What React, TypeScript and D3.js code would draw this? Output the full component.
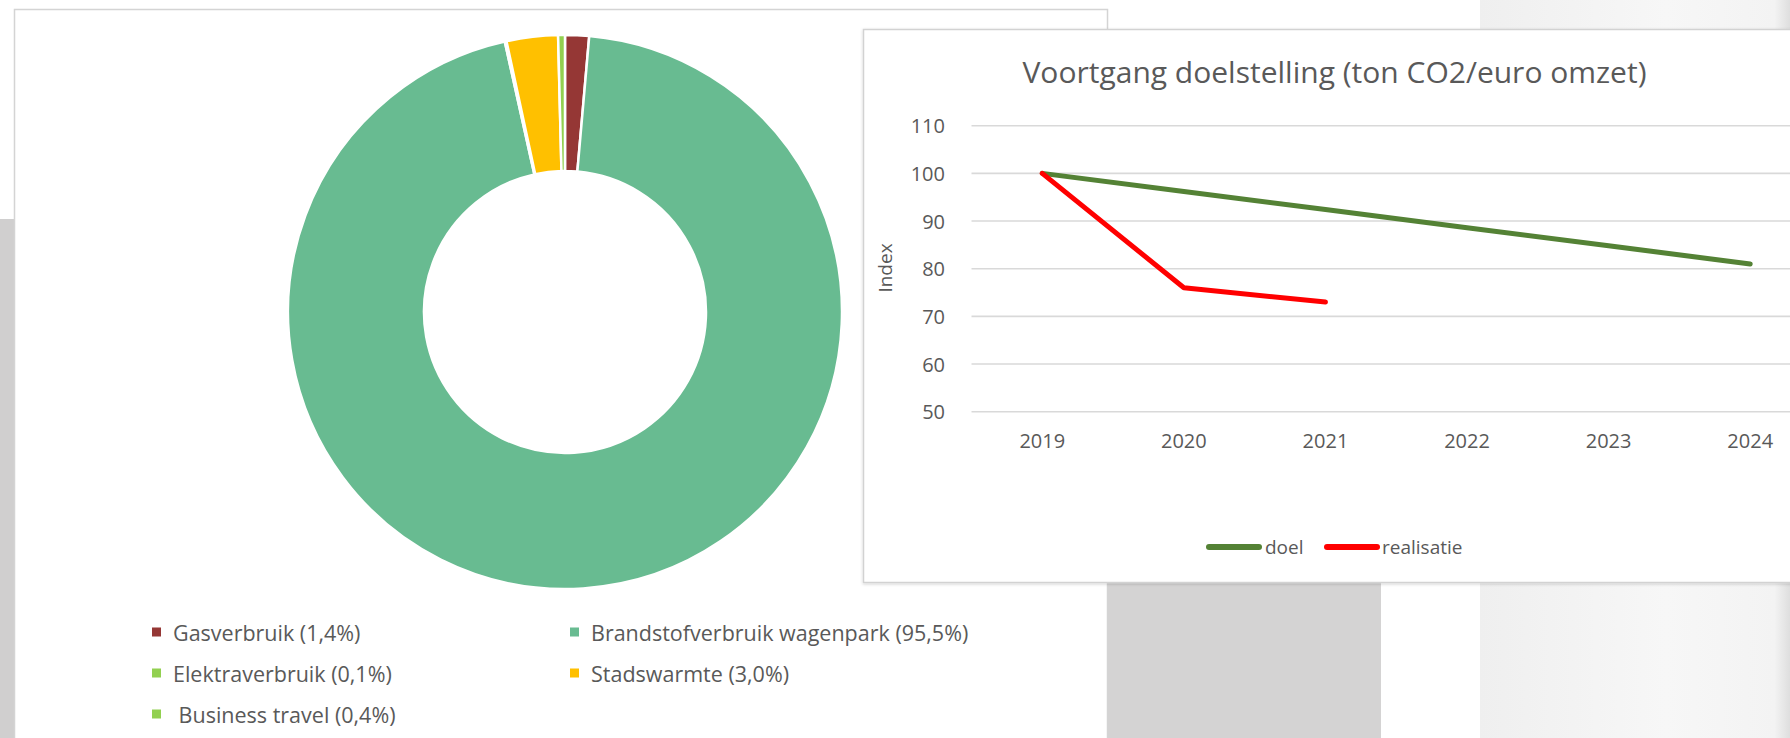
import React from "react";
import { pie, arc, scaleBand, scaleLinear, line } from "d3";

const donutLabels = ["Gasverbruik", "Brandstofverbruik wagenpark", "Elektraverbruik", "Stadswarmte", " Business travel"];
const donutShares = [1.4, 95.5, 0.1, 3.0, 0.4];
const donutColors = ["#953735", "#68bb91", "#92d050", "#ffc000", "#92d050"];

const years = ["2019", "2020", "2021", "2022", "2023", "2024"];
const doel = [100, 96.2, 92.4, 88.6, 84.8, 81];
const realisatie = [100, 76, 73];
const yTicks = [50, 60, 70, 80, 90, 100, 110];

const FONT = "'Open Sans', 'Noto Sans', sans-serif";
const TXT = "#595959";

const Donut = () => {
  const cx = 565, cy = 312, outer = 277, inner = 141;
  const data = donutShares.map((v, i) => ({ label: donutLabels[i], value: v, color: donutColors[i] }));
  const slices = pie().sort(null).value(d => d.value)(data);
  const arcGen = arc().innerRadius(inner).outerRadius(outer);

  return (
    <g>
      <g transform={`translate(${cx}, ${cy})`}>
        {slices.map((s, i) => (
          <path key={i} d={arcGen(s)} fill={s.data.color} stroke="#fff" strokeWidth={2.5} />
        ))}
      </g>
      {data.map((d, i) => {
        const col = i % 2, row = Math.floor(i / 2);
        const x = col === 0 ? 152 : 570;
        const y = 632 + row * 41;
        return (
          <g key={i}>
            <rect x={x} y={y - 4.5} width={9} height={9} fill={d.color} />
            <text
              x={x + 21}
              y={y}
              dominantBaseline="central"
              fontSize="21.5"
              fill={TXT}
              style={{ whiteSpace: "pre" }}
            >
              {`${d.label} (${d.value.toFixed(1).replace(".", ",")}%)`}
            </text>
          </g>
        );
      })}
    </g>
  );
};

const LineChart = () => {
  const x = scaleBand().domain(years).range([971.5, 1821]);
  const cxOf = (yr) => x(yr) + x.bandwidth() / 2;
  const y = scaleLinear().domain([50, 110]).range([411.7, 125.7]);
  const lineGen = line().x(d => cxOf(d.year)).y(d => y(d.value));
  const doelPts = doel.map((v, i) => ({ year: years[i], value: v }));
  const realPts = realisatie.map((v, i) => ({ year: years[i], value: v }));

  return (
    <g>
      <text x={1334.5} y={83} textAnchor="middle" fontSize="30" fill={TXT}>
        Voortgang doelstelling (ton CO2/euro omzet)
      </text>

      {yTicks.map(t => (
        <g key={t}>
          <line x1={971.5} x2={1790} y1={y(t)} y2={y(t)} stroke="#d9d9d9" strokeWidth={1.6} />
          <text x={945} y={y(t)} textAnchor="end" dominantBaseline="central" fontSize="20" fill={TXT}>
            {t}
          </text>
        </g>
      ))}

      {years.map(yr => (
        <text key={yr} x={cxOf(yr)} y={448} textAnchor="middle" fontSize="20" fill={TXT}>
          {yr}
        </text>
      ))}

      <text
        transform="translate(885, 268) rotate(-90)"
        textAnchor="middle"
        dominantBaseline="central"
        fontSize="19"
        fill={TXT}
      >
        Index
      </text>

      <path d={lineGen(doelPts)} fill="none" stroke="#548235" strokeWidth={5} strokeLinejoin="round" strokeLinecap="round" />
      <path d={lineGen(realPts)} fill="none" stroke="#ff0000" strokeWidth={5} strokeLinejoin="round" strokeLinecap="round" />

      <line x1={1209} x2={1259} y1={547} y2={547} stroke="#548235" strokeWidth={6} strokeLinecap="round" />
      <text x={1265} y={547} dominantBaseline="central" fontSize="19" fill={TXT}>doel</text>
      <line x1={1327} x2={1377} y1={547} y2={547} stroke="#ff0000" strokeWidth={6} strokeLinecap="round" />
      <text x={1382} y={547} dominantBaseline="central" fontSize="19" fill={TXT}>realisatie</text>
    </g>
  );
};

export default function App() {
  const width = 1790, height = 738;
  return (
    <svg
      width={width}
      height={height}
      style={{ position: "absolute", left: 0, top: 0, display: "block", background: "#fff" }}
      fontFamily={FONT}
    >
      <defs>
        <linearGradient id="fadeR" x1="0" x2="1" y1="0" y2="0">
          <stop offset="0" stopColor="#efefef" />
          <stop offset="0.6" stopColor="#f7f7f7" />
          <stop offset="0.95" stopColor="#f3f3f3" />
          <stop offset="1" stopColor="#dedede" />
        </linearGradient>
        <filter id="shadow" x="-5%" y="-5%" width="110%" height="110%">
          <feDropShadow dx="0" dy="1" stdDeviation="1.5" floodColor="#000" floodOpacity="0.18" />
        </filter>
      </defs>

      {/* background bits around the two panels */}
      <rect x={0} y={219} width={15} height={519} fill="#d0cfcf" />
      <rect x={1480} y={0} width={310} height={30} fill="url(#fadeR)" />
      <rect x={1480} y={583} width={310} height={155} fill="url(#fadeR)" />
      <rect x={1108} y={583} width={273} height={155} fill="#d4d3d3" />

      {/* donut panel */}
      <rect x={14.5} y={9.5} width={1093} height={740} fill="#fff" stroke="#d4d4d4" strokeWidth={1.5} />
      <Donut />

      {/* line chart panel */}
      <rect x={863.5} y={29.5} width={940} height={553} fill="#fff" stroke="#d2d2d2" strokeWidth={1.5} filter="url(#shadow)" />
      <LineChart />
    </svg>
  );
}
